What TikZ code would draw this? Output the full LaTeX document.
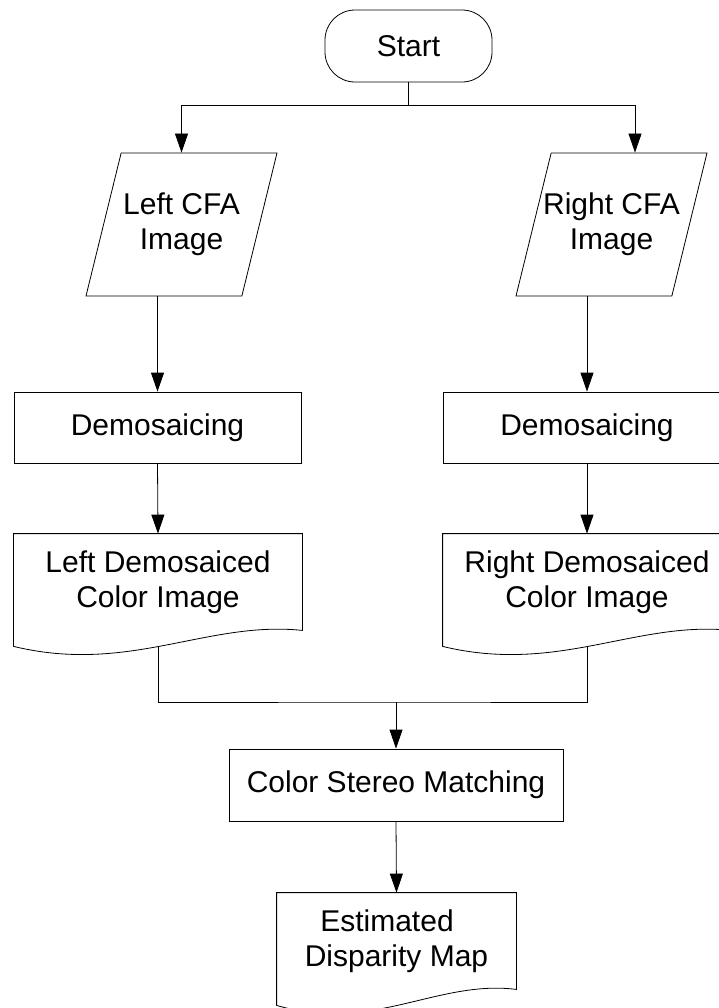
\documentclass[tikz,border=0pt]{standalone}
\usepackage{fontspec}
\setmainfont{Liberation Sans}
\usetikzlibrary{shapes.geometric, arrows.meta, calc}

% outline of a document symbol (wavy bottom) around a borderless node
\newcommand{\docoutline}[1]{%
  \draw (#1.north west) -- (#1.north east) -- (#1.south east)
    .. controls ($(#1.south west)!0.67!(#1.south east)+(0,-10)$)
            and ($(#1.south west)!0.4!(#1.south east)+(0,44)$)
    .. ($(#1.south west)+(0,16)$) -- cycle;
}

\begin{document}
\begin{tikzpicture}[
    x=1bp, y=-1bp,
    >={Triangle[length=19bp, width=13bp]},
    line width=0.8bp,
    every node/.style={font=\fontsize{30bp}{35bp}\selectfont, align=center},
    terminal/.style={
        draw, rectangle, rounded corners=30bp,
        minimum width=167bp, minimum height=72bp
    },
    io/.style={
        draw, trapezium, trapezium left angle=63.2, trapezium right angle=116.8,
        trapezium stretches body, inner xsep=-11bp,
        minimum width=191bp, minimum height=143bp
    },
    process/.style={draw, rectangle, minimum height=71bp},
    doc/.style={rectangle, minimum height=96bp}
]

\useasboundingbox (0,0) rectangle (719,1008);

% -------------------------
% Nodes
% -------------------------

% Start
\node[terminal] (start) at (408.5,46) {Start};

% Raw sensor images
\node[io] (cfaL) at (181.5,224.5) {Left CFA\\Image};
\node[io] (cfaR) at (611.5,224.5) {Right CFA\\Image};

% Demosaicing steps
\node[process, minimum width=287bp] (demL) at (157.5,427.5) {Demosaicing};
\node[process, minimum width=287bp] (demR) at (587,427.5) {Demosaicing};

% Color images
\node[doc, minimum width=288bp] (docL) at (158,582) {Left Demosaiced\\Color Image};
\node[doc, minimum width=288bp] (docR) at (587,582) {Right Demosaiced\\Color Image};
\docoutline{docL}
\docoutline{docR}

% Matching and result
\node[process, minimum width=334bp, minimum height=72bp] (match) at (396,785) {Color Stereo Matching};
\node[doc, minimum width=239bp] (est) at (396.5,941) {Estimated\kern19bp\\Disparity Map};
\docoutline{est}

% -------------------------
% Connections
% -------------------------

\coordinate (fork) at (408.5,105);
\coordinate (join) at (396,702);

\draw (start.south) -- (fork);
\draw[->] (fork) -| (cfaL.north);
\draw[->] (fork) -| ([xshift=23.5bp]cfaR.north);

\draw[->] (demL.north |- cfaL.south) -- (demL.north);
\draw[->] (demR.north |- cfaR.south) -- (demR.north);

\draw[->] (demL.south) -- (docL.north);
\draw[->] (demR.south) -- (docR.north);

\draw ([yshift=-16bp]docL.south) |- (join) -| ([yshift=-16bp]docR.south);
\draw[->] (join) -- (match.north);
\draw[->] (match.south) -- (est.north);

\end{tikzpicture}
\end{document}
